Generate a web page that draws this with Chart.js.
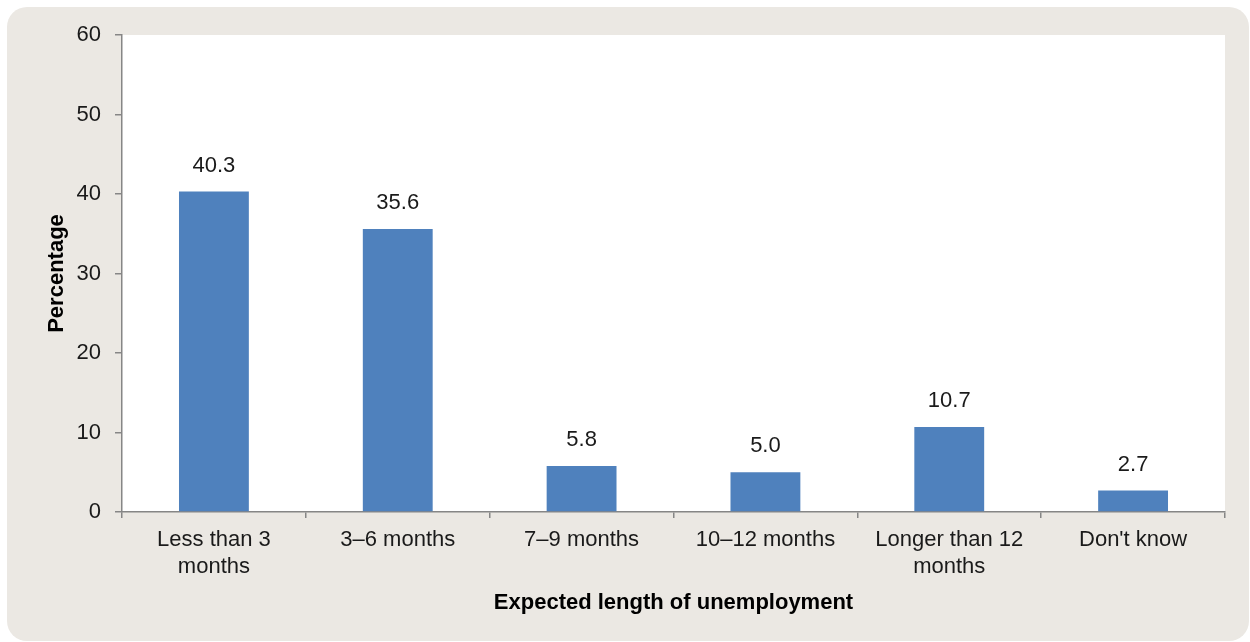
<!DOCTYPE html>
<html>
<head>
<meta charset="utf-8">
<script src="https://cdn.jsdelivr.net/npm/chart.js@4"></script>
<style>
  html, body { margin: 0; padding: 0; background: #ffffff; }
  #chart { display: block; }
</style>
</head>
<body>
<canvas id="chart" width="1250" height="642"></canvas>
<script>
const categories = [['Less than 3', 'months'], '3–6 months', '7–9 months', '10–12 months', ['Longer than 12', 'months'], "Don't know"];
const percentages = [40.3, 35.6, 5.8, 5.0, 10.7, 2.7];
const yTicks = [0, 10, 20, 30, 40, 50, 60];

const FONT = '"Liberation Sans", Arial, sans-serif';

// panel background + white plot area
const panelPlugin = {
    id: 'panel',
    beforeDraw(chart) {
        const ctx = chart.ctx, a = chart.chartArea;
        ctx.save();
        ctx.fillStyle = '#ebe8e3';
        ctx.beginPath();
        ctx.roundRect(7, 7, 1242, 634, 20);
        ctx.fill();
        ctx.fillStyle = '#ffffff';
        ctx.fillRect(a.left, a.top, a.right - a.left, a.bottom - a.top);
        ctx.restore();
    }
};

// value labels above bars
const valueLabels = {
    id: 'valueLabels',
    afterDatasetsDraw(chart) {
        const ctx = chart.ctx;
        const meta = chart.getDatasetMeta(0);
        ctx.save();
        ctx.font = '22px ' + FONT;
        ctx.fillStyle = '#1a1a1a';
        ctx.textAlign = 'center';
        ctx.textBaseline = 'middle';
        meta.data.forEach((bar, i) => {
            ctx.fillText(percentages[i].toFixed(1), bar.x, bar.y - 26);
        });
        ctx.restore();
    }
};

new Chart(document.getElementById('chart'), {
    type: 'bar',
    data: {
        labels: categories,
        datasets: [{
            data: percentages,
            backgroundColor: '#4f81bd',
            barPercentage: 0.38,
            categoryPercentage: 1
        }]
    },
    options: {
        responsive: false,
        animation: false,
        layout: { padding: { top: 35, right: 25, bottom: 0, left: 0 } },
        plugins: { legend: { display: false }, tooltip: { enabled: false } },
        scales: {
            x: {
                afterFit(scale) { scale.height = 130; },
                border: { display: true, color: '#868686', width: 1.5 },
                grid: { drawOnChartArea: false, drawTicks: true, tickLength: 6, color: '#868686', lineWidth: 1.5 },
                ticks: { color: '#1a1a1a', padding: 9, maxRotation: 0, autoSkip: false, font: { family: FONT, size: 22 } },
                title: {
                    display: true, text: 'Expected length of unemployment', color: '#000',
                    font: { family: FONT, size: 22, weight: 'bold' }, padding: { top: 0, bottom: 26 }
                }
            },
            y: {
                min: 0, max: 60,
                afterFit(scale) { scale.width = 122; },
                afterBuildTicks(scale) { scale.ticks = yTicks.map(v => ({ value: v })); },
                border: { display: true, color: '#868686', width: 1.5 },
                grid: { drawOnChartArea: false, drawTicks: true, tickLength: 7, color: '#868686', lineWidth: 1.5 },
                ticks: { color: '#1a1a1a', padding: 14, font: { family: FONT, size: 22 } },
                title: {
                    display: true, text: 'Percentage', color: '#000',
                    font: { family: FONT, size: 22, weight: 'bold' }, padding: { top: 44, bottom: 0 }
                }
            }
        }
    },
    plugins: [panelPlugin, valueLabels]
});
</script>
</body>
</html>
